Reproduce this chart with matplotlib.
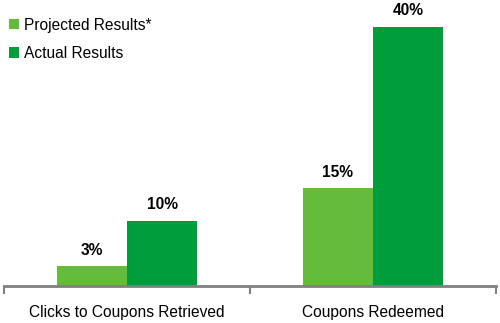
import numpy as np
import matplotlib.pyplot as plt

plt.rcParams['font.family'] = ['Liberation Sans', 'DejaVu Sans']

categories = ["Clicks to Coupons Retrieved", "Coupons Redeemed"]
projected = [3, 15]
actual = [10, 40]
series_names = ["Projected Results*", "Actual Results"]

light = '#64bc3a'
dark = '#009e3a'

fig = plt.figure(figsize=(5, 3.23), dpi=100)
ax = fig.add_axes([0.008, 0.116, 0.984, 0.884])

x = np.arange(len(categories))
w = 0.285
b1 = ax.bar(x - w / 2, projected, w, color=light, label=series_names[0])
b2 = ax.bar(x + w / 2, actual, w, color=dark, label=series_names[1])

for bars, vals in ((b1, projected), (b2, actual)):
    for r, v in zip(bars, vals):
        ax.text(r.get_x() + r.get_width() / 2, v + 1.3, f"{v}%",
                ha='center', va='bottom', fontsize=11.2, fontweight='bold')

ax.set_xlim(-0.5, 1.5)
ax.set_ylim(0, 44.1)
ax.set_yticks([])
ax.set_xticks(x)
ax.set_xticklabels(categories, fontsize=11.2)
ax.tick_params(axis='x', which='major', length=0, pad=14)
ax.set_xticks([-0.5, 0.5, 1.5], minor=True)
ax.tick_params(axis='x', which='minor', length=6, width=1.5, color='#808080')
for s in ['top', 'left', 'right']:
    ax.spines[s].set_visible(False)
ax.spines['bottom'].set_color('#808080')
ax.spines['bottom'].set_linewidth(2)

leg = ax.legend(loc='upper left', bbox_to_anchor=(-0.002, 0.96), frameon=False,
                fontsize=11.2, handlelength=0.65, handleheight=0.65,
                handletextpad=0.3, labelspacing=0.85, borderaxespad=0)

fig.savefig('out.png', dpi=100)
